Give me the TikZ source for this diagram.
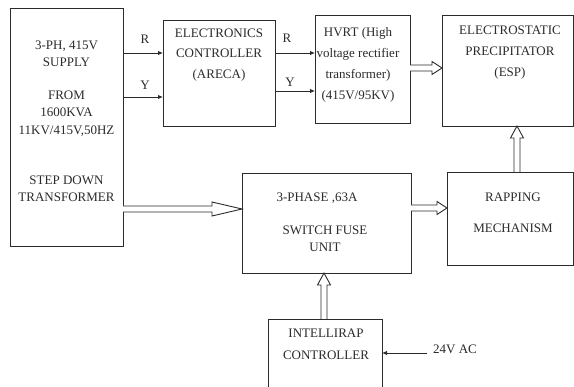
\documentclass[tikz,border=0pt]{standalone}
\usepackage{fontspec}
\setmainfont{Liberation Serif}
\usetikzlibrary{calc,arrows.meta}
\definecolor{ink}{HTML}{2B2B2B}
\tikzset{
  blk/.style={draw=ink, line width=0.9pt, inner sep=0pt, outer sep=0pt},
  txt/.style={font=\fontsize{13}{#1}\selectfont, text=ink, align=center, anchor=base, inner sep=0pt},
  thinarr/.style={draw=ink, line width=0.9pt, -{Latex[length=5pt,width=4.5pt]}},
  fatline/.style={draw=ink, line width=0.9pt, fill=white, line join=miter},
}
% #1 start, #2 end, #3 head length, #4 shaft half width, #5 head half width
\newcommand\fatarr[5]{%
  \coordinate (fah) at ($(#2)!#3!(#1)$);
  \draw[fatline] ($(#1)!#4!90:(#2)$) -- ($(fah)!#4!90:(#2)$) -- ($(fah)!#5!90:(#2)$)
    -- (#2) -- ($(fah)!#5!-90:(#2)$) -- ($(fah)!#4!-90:(#2)$) -- ($(#1)!#4!-90:(#2)$);
}
\begin{document}
\begin{tikzpicture}[x=1pt,y=-1pt]
\useasboundingbox[fill=white] (0,0) rectangle (574,387);
% boxes
\node[blk, minimum width=113pt, minimum height=238pt] (src) at (66.5,127) {};
\node[blk, minimum width=112pt, minimum height=106pt] (ctrl) at (219,73) {};
\node[blk, minimum width=95pt, minimum height=108pt] (hvrt) at (362.5,69) {};
\node[blk, minimum width=131pt, minimum height=111pt] (esp) at (507.5,70.5) {};
\node[blk, minimum width=169pt, minimum height=100pt] (sfu) at (326.5,223) {};
\node[blk, minimum width=126pt, minimum height=93pt] (rap) at (510,218.5) {};
\node[blk, minimum width=114pt, minimum height=82pt] (intl) at (325,360) {};
% texts (anchor = baseline of the last line)
\node[txt=17.5pt] (srcT) at (66.5,202) {3-PH, 415V\\SUPPLY\\[15pt]FROM\\1600KVA\\11KV/415V,50HZ\\[32.5pt]STEP DOWN\\TRANSFORMER};
\node[txt=20.5pt] (ctrlT) at (219,78.5) {ELECTRONICS\\CONTROLLER\\(ARECA)};
\node[txt=21pt] (hvrtT) at (358,99.5) {HVRT (High\\voltage rectifier\\transformer)\\(415V/95KV)};
\node[txt=21pt] (espT) at (510,76.5) {ELECTROSTATIC\\PRECIPITATOR\\(ESP)};
\node[txt=17pt] (sfuT) at (325,251.5) {3-PHASE ,63A\kern16pt\\[16pt]SWITCH FUSE\\UNIT};
\node[txt=31pt] (rapT) at (513,232.5) {RAPPING\\MECHANISM};
\node[txt=22pt] (intlT) at (326,359.5) {INTELLIRAP\\CONTROLLER};
\node[txt=13pt] (ac) at (455,353.5) {24V AC};
\node[txt=13pt] (r1) at (145,43.5) {R};
\node[txt=13pt] (y1) at (145,89.5) {Y};
\node[txt=13pt] (r2) at (287,42.5) {R};
\node[txt=13pt] (y2) at (290,86.5) {Y};
% thin arrows
\draw[thinarr] (src.east |- 0,53) -- (ctrl.west |- 0,53);
\draw[thinarr] (src.east |- 0,97) -- (ctrl.west |- 0,97);
\draw[thinarr] (ctrl.east |- 0,53) -- (hvrt.west |- 0,53);
\draw[thinarr] (ctrl.east |- 0,91) -- (hvrt.west |- 0,91);
\coordinate (acin) at (427,353);
\draw[thinarr] (acin) -- (intl.east |- acin);
% fat arrows
\coordinate (a1s) at (src.east |- 0,209); \coordinate (a1e) at (sfu.west |- 0,209);
\fatarr{a1s}{a1e}{30pt}{3pt}{7pt}
\coordinate (a2s) at (sfu.east |- 0,208); \coordinate (a2e) at (rap.west |- 0,208);
\fatarr{a2s}{a2e}{10pt}{3pt}{6.5pt}
\coordinate (a3s) at (hvrt.east |- 0,68); \coordinate (a3e) at (esp.west |- 0,68);
\fatarr{a3s}{a3e}{10pt}{3pt}{6.5pt}
\coordinate (a4s) at (rap.north -| 517,0); \coordinate (a4e) at (esp.south -| 517,0);
\fatarr{a4s}{a4e}{12pt}{3pt}{6.5pt}
\coordinate (a5s) at (intl.north -| 324,0); \coordinate (a5e) at (sfu.south -| 324,0);
\fatarr{a5s}{a5e}{12pt}{3pt}{6.5pt}
\end{tikzpicture}
\end{document}
